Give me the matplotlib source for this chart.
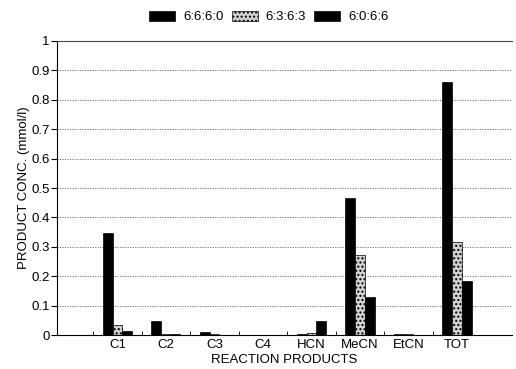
import matplotlib
matplotlib.use("Agg")
import matplotlib.pyplot as plt
import numpy as np

plt.rcParams["font.family"] = ["Liberation Sans", "DejaVu Sans"]

categories = ["", "C1", "C2", "C3", "C4", "HCN", "MeCN", "EtCN", "TOT"]
series_names = ["6:6:6:0", "6:3:6:3", "6:0:6:6"]
conc_6660 = [0.0, 0.348, 0.047, 0.010, 0.0, 0.003, 0.466, 0.002, 0.860]
conc_6363 = [0.0, 0.034, 0.005, 0.003, 0.0, 0.006, 0.272, 0.003, 0.316]
conc_6066 = [0.0, 0.013, 0.003, 0.0, 0.0, 0.047, 0.130, 0.0, 0.184]
y_ticks = [0, 0.1, 0.2, 0.3, 0.4, 0.5, 0.6, 0.7, 0.8, 0.9, 1]
y_ticklabels = ["0", "0.1", "0.2", "0.3", "0.4", "0.5", "0.6", "0.7", "0.8", "0.9", "1"]

fig = plt.figure(figsize=(5.16, 3.69), dpi=100)
ax = fig.add_axes([0.110, 0.092, 0.882, 0.797])

x = np.arange(len(categories))
w = 0.2
ax.bar(x - w, conc_6660, w, color="black", edgecolor="black", lw=0.5, label=series_names[0])
ax.bar(x, conc_6363, w, color="#d2d2d2", edgecolor="black", lw=0.5, hatch="....",
       label=series_names[1])
ax.bar(x + w, conc_6066, w, color="black", edgecolor="black", lw=0.5, label=series_names[2])

ax.set_xlim(-0.25, 9.13)
ax.set_ylim(0, 1)
ax.set_yticks(y_ticks)
ax.set_yticklabels(y_ticklabels, fontsize=9.5)
ax.set_xticks(x[1:])
ax.set_xticklabels(categories[1:], fontsize=9.5)
ax.set_xticks(x[1:] - 0.5, minor=True)
ax.tick_params(axis="x", which="major", length=0, pad=3)
ax.tick_params(axis="x", which="minor", length=3, direction="in")
ax.tick_params(axis="y", length=4, direction="out", pad=1)

for v in y_ticks[1:-1]:
    ax.axhline(v, color="0.4", ls=(0, (1.5, 1.5)), lw=0.6, zorder=0)

ax.spines["right"].set_visible(False)
ax.spines["top"].set_color("0.3")
ax.spines["left"].set_linewidth(0.8)
ax.spines["bottom"].set_linewidth(0.8)

ax.set_ylabel("PRODUCT CONC. (mmol/l)", fontsize=9.5, labelpad=1)
ax.set_xlabel("REACTION PRODUCTS", fontsize=9.5, labelpad=2)

ax.legend(loc="lower center", bbox_to_anchor=(0.466, 1.02), ncol=3, frameon=False,
          fontsize=9.5, handlelength=2.0, handleheight=0.8, columnspacing=0.6,
          handletextpad=0.6)

fig.savefig("out.png", dpi=100)
